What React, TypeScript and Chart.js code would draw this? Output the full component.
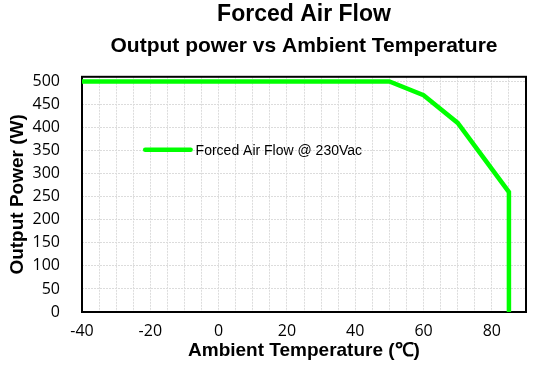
import React, { useEffect, useRef } from "react";
import { Chart, registerables } from "chart.js";

Chart.register(...registerables);

const titleText = "Forced Air Flow";
const subtitleText = "Output power vs Ambient Temperature";
const seriesLabel = "Forced Air Flow @ 230Vac";
const temperatures = [-40, 50, 60, 70, 85, 85];
const outputPower = [500, 500, 470, 410, 260, 0];
const xTickLabels = [-40, -20, 0, 20, 40, 60, 80];
const yTickLabels = [0, 50, 100, 150, 200, 250, 300, 350, 400, 450, 500];
const xAxisTitle = "Ambient Temperature (\u2103)";
const yAxisTitle = "Output Power (W)";
const legendAnchor = { x0: -21.5, x1: -8.2, y: 352 };

const GREEN = "#00ff00";

const borderPlugin = {
  id: "plotBorder",
  beforeDatasetsDraw(chart: any) {
    const { ctx, chartArea } = chart;
    ctx.save();
    ctx.strokeStyle = "#000";
    ctx.lineWidth = 2;
    ctx.strokeRect(chartArea.left, chartArea.top, chartArea.right - chartArea.left, chartArea.bottom - chartArea.top);
    ctx.restore();
  },
};

const legendPlugin = {
  id: "inlineLegend",
  afterDatasetsDraw(chart: any) {
    const { ctx, scales } = chart;
    const x0 = scales.x.getPixelForValue(legendAnchor.x0);
    const x1 = scales.x.getPixelForValue(legendAnchor.x1);
    const y = scales.y.getPixelForValue(legendAnchor.y);
    ctx.save();
    ctx.strokeStyle = GREEN;
    ctx.lineWidth = 4.5;
    ctx.lineCap = "round";
    ctx.beginPath();
    ctx.moveTo(x0, y);
    ctx.lineTo(x1, y);
    ctx.stroke();
    ctx.fillStyle = "#000";
    ctx.font = "14px 'Liberation Sans', Arial, sans-serif";
    ctx.textBaseline = "middle";
    ctx.textAlign = "left";
    ctx.fillText(seriesLabel, x1 + 5, y + 1);
    ctx.restore();
  },
};

export default function App() {
  const ref = useRef<HTMLCanvasElement | null>(null);
  useEffect(() => {
    document.body.style.margin = "0";
    const canvas = ref.current!;
    const chart = new Chart(canvas, {
      type: "line",
      data: {
        datasets: [
          {
            label: seriesLabel,
            data: temperatures.map((t, i) => ({ x: t, y: outputPower[i] })),
            borderColor: GREEN,
            backgroundColor: GREEN,
            borderWidth: 4.5,
            pointRadius: 0,
            tension: 0,
            borderJoinStyle: "miter",
            fill: false,
          },
        ],
      },
      options: {
        animation: false,
        responsive: false,
        maintainAspectRatio: false,
        layout: { padding: { right: 14, left: 0, top: 0, bottom: 0 } },
        plugins: {
          legend: { display: false },
          tooltip: { enabled: false },
          title: {
            display: true,
            text: titleText,
            fullSize: false,
            color: "#000",
            font: { family: "'Liberation Sans', Arial, sans-serif", size: 23, weight: "bold" },
            padding: { top: 1, bottom: 4.6 },
          },
          subtitle: {
            display: true,
            text: subtitleText,
            fullSize: false,
            color: "#000",
            font: { family: "'Liberation Sans', Arial, sans-serif", size: 21, weight: "bold" },
            padding: { top: 0, bottom: 18.4 },
          },
        },
        scales: {
          x: {
            type: "linear",
            min: -40,
            max: 90,
            afterBuildTicks(axis: any) {
              const t: any[] = [];
              for (let v = -40; v <= 90; v += 5) t.push({ value: v });
              axis.ticks = t;
            },
            afterFit(axis: any) {
              axis.height = 53;
            },
            ticks: {
              autoSkip: false,
              maxRotation: 0,
              padding: 10,
              color: "#000",
              font: { family: "'Open Sans', sans-serif", size: 16 },
              callback: (v: any) => (xTickLabels.includes(Number(v)) ? String(v) : ""),
            },
            grid: { color: "#dcdcdc", lineWidth: 1, drawTicks: false },
            border: { display: false, dash: [2, 1] },
            title: {
              display: true,
              text: xAxisTitle,
              color: "#000",
              font: { family: "'Liberation Sans', Arial, sans-serif", size: 19, weight: "bold" },
              padding: { top: 0, bottom: 2.6 },
            },
          },
          y: {
            type: "linear",
            min: 0,
            max: 510,
            afterBuildTicks(axis: any) {
              axis.ticks = yTickLabels.map((v) => ({ value: v }));
            },
            afterFit(axis: any) {
              axis.width = 82;
            },
            ticks: {
              autoSkip: false,
              padding: 22,
              color: "#000",
              font: { family: "'Open Sans', sans-serif", size: 16 },
              callback: (v: any) => String(v),
            },
            grid: { color: "#dcdcdc", lineWidth: 1, drawTicks: false },
            border: { display: false, dash: [2, 1] },
            title: {
              display: true,
              text: yAxisTitle,
              color: "#000",
              font: { family: "'Liberation Sans', Arial, sans-serif", size: 19, weight: "bold" },
              padding: { top: 6.6, bottom: 0 },
            },
          },
        },
      } as any,
      plugins: [borderPlugin, legendPlugin],
    });
    return () => chart.destroy();
  }, []);
  return <canvas ref={ref} width={540} height={365} style={{ display: "block", width: 540, height: 365 }} />;
}
